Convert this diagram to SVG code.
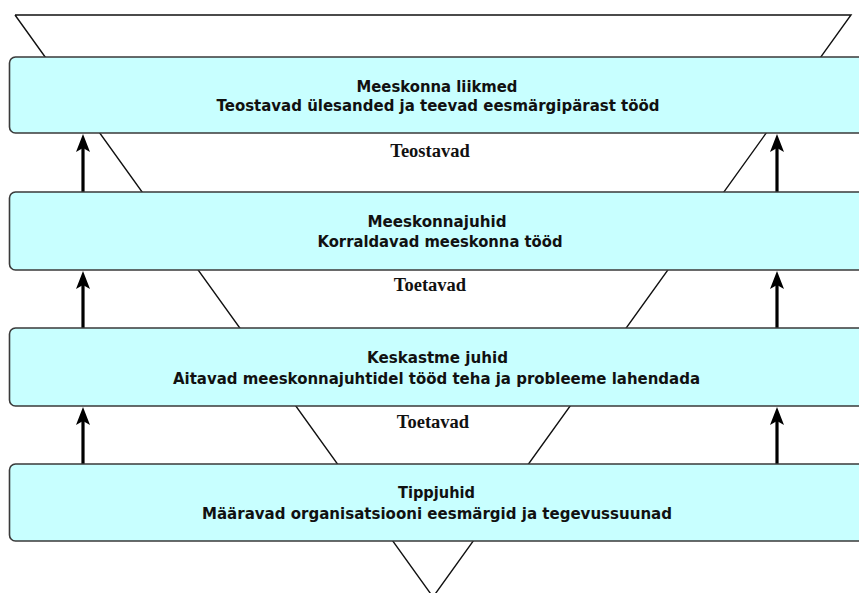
<svg xmlns="http://www.w3.org/2000/svg" width="859" height="593" viewBox="0 0 859 593">
<style>
.box{fill:#c8ffff;stroke:#3a3a3a;stroke-width:1.6}
.t{font-family:"DejaVu Sans","Liberation Sans",sans-serif;font-weight:bold;font-size:15px;fill:#111;text-anchor:middle}
.l{font-family:"Liberation Serif","DejaVu Serif",serif;font-weight:bold;font-size:18.5px;fill:#111;text-anchor:middle}
.tri{fill:none;stroke:#111;stroke-width:1.4}
.arr{stroke:#000;stroke-width:3.2;fill:none;marker-end:url(#ah)}
</style>
<defs>
<marker id="ah" markerUnits="userSpaceOnUse" markerWidth="18" markerHeight="14" refX="8" refY="7" orient="auto" viewBox="0 0 18 14">
<path d="M0 0 L18 7 L0 14 L4 7 Z" fill="#000"/>
</marker>
</defs>
<g id="triangle">
<polyline class="tri" points="15,15 851,15 433,597 15,15"/>
</g>
<g id="connectors">
<line class="arr" x1="83" y1="192" x2="83" y2="144"/>
<line class="arr" x1="777" y1="192" x2="777" y2="144"/>
<line class="arr" x1="83" y1="328" x2="83" y2="281"/>
<line class="arr" x1="777" y1="328" x2="777" y2="281"/>
<line class="arr" x1="83" y1="464" x2="83" y2="417"/>
<line class="arr" x1="777" y1="464" x2="777" y2="417"/>
</g>
<g id="node-meeskonna-liikmed">
<rect class="box" x="9.5" y="57" width="870" height="76" rx="6"/>
<text class="t" x="437" y="92" textLength="161" lengthAdjust="spacingAndGlyphs">Meeskonna liikmed</text>
<text class="t" x="438" y="111" textLength="443" lengthAdjust="spacingAndGlyphs">Teostavad ülesanded ja teevad eesmärgipärast tööd</text>
</g>
<g id="node-meeskonnajuhid">
<rect class="box" x="9.5" y="192" width="870" height="78" rx="6"/>
<text class="t" x="437" y="227" textLength="139" lengthAdjust="spacingAndGlyphs">Meeskonnajuhid</text>
<text class="t" x="440" y="247" textLength="245" lengthAdjust="spacingAndGlyphs">Korraldavad meeskonna tööd</text>
</g>
<g id="node-keskastme-juhid">
<rect class="box" x="9.5" y="328" width="870" height="78" rx="6"/>
<text class="t" x="437.5" y="363" textLength="141" lengthAdjust="spacingAndGlyphs">Keskastme juhid</text>
<text class="t" x="436.5" y="384" textLength="527" lengthAdjust="spacingAndGlyphs">Aitavad meeskonnajuhtidel tööd teha ja probleeme lahendada</text>
</g>
<g id="node-tippjuhid">
<rect class="box" x="9.5" y="464" width="870" height="77" rx="6"/>
<text class="t" x="436.5" y="498" textLength="77" lengthAdjust="spacingAndGlyphs">Tippjuhid</text>
<text class="t" x="437" y="519" textLength="470" lengthAdjust="spacingAndGlyphs">Määravad organisatsiooni eesmärgid ja tegevussuunad</text>
</g>
<g id="labels">
<text class="l" x="430" y="157">Teostavad</text>
<text class="l" x="430" y="291">Toetavad</text>
<text class="l" x="433" y="428">Toetavad</text>
</g>
</svg>
